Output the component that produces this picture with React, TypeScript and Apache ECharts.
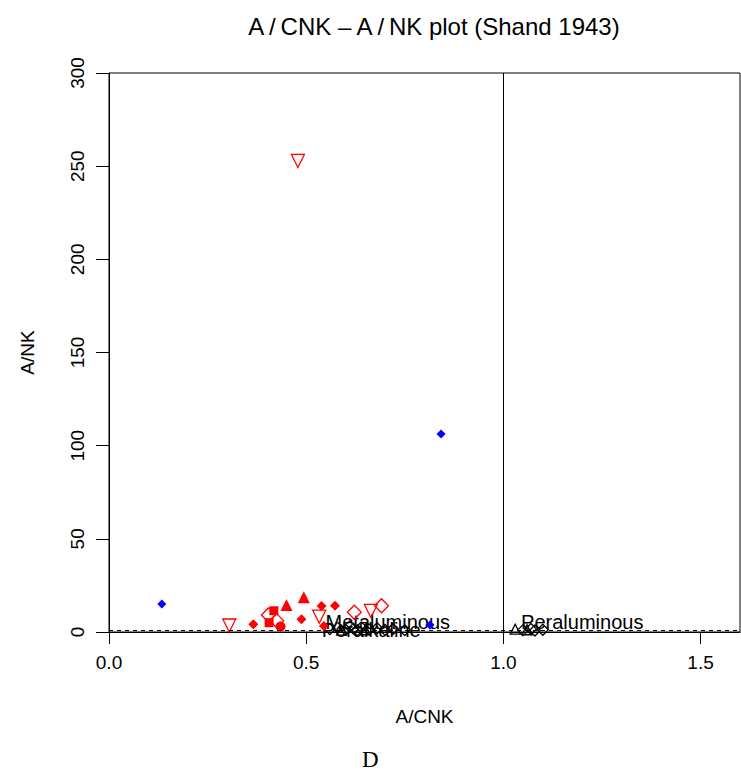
import React, { useEffect, useRef } from "react";
import * as echarts from "echarts";

const xTickValues = [0, 0.5, 1.0, 1.5];
const yTickValues = [0, 50, 100, 150, 200, 250, 300];

const blueDiamonds = [[0.134, 15.0], [0.842, 106.3], [0.814, 3.8]];
const redOpenDownTriangles = [[0.479, 252.8], [0.305, 3.5], [0.533, 8.2], [0.664, 11.3]];
const redFilledDiamonds = [[0.366, 4.1], [0.488, 6.8], [0.539, 14.0], [0.573, 14.1], [0.545, 3.2]];
const redFilledSquares = [[0.418, 11.4], [0.406, 5.0]];
const redOpenDiamonds = [[0.404, 9.1], [0.425, 6.1], [0.622, 10.6], [0.691, 14.1]];
const redFilledCircles = [[0.435, 2.9]];
const redFilledTriangles = [[0.45, 14.5], [0.494, 18.6]];
const blackOpenDiamonds = [
  [0.56, 1.5], [0.58, 2.2], [0.6, 1.2], [0.61, 3.0], [0.62, 1.8], [0.63, 0.9],
  [0.64, 2.5], [0.66, 1.4], [0.68, 2.0], [0.7, 1.1], [0.72, 1.6], [0.75, 1.0],
  [1.05, 1.0], [1.07, 1.6], [1.08, 0.8], [1.1, 1.2],
];
const blackOpenTriangles = [[0.59, 1.0], [0.65, 1.2], [1.03, 1.5], [1.06, 1.2]];

const fieldLabels = [
  { name: "Metaluminous", value: [0.707, 5.6] },
  { name: "Peraluminous", value: [1.2, 5.6] },
  { name: "Peralkaline", value: [0.665, 0.9] },
];

const RED = "#ff0000";
const BLUE = "#0000ff";

export default function App() {
  const ref = useRef<HTMLDivElement>(null);
  useEffect(() => {
    if (!ref.current) return;
    const chart = echarts.init(ref.current, null, { renderer: "svg" });
    const font = "Liberation Sans";
    const openStyle = (c: string) => ({ color: "rgba(0,0,0,0)", borderColor: c, borderWidth: 1.3, opacity: 1 });
    const filled = (c: string) => ({ color: c, opacity: 1 });
    chart.setOption({
      animation: false,
      backgroundColor: "#ffffff",
      textStyle: { fontFamily: font },
      title: {
        text: "A\u2009/\u2009CNK – A\u2009/\u2009NK plot (Shand 1943)",
        left: 429,
        textAlign: "center",
        top: 9,
        textStyle: { fontFamily: font, fontSize: 24, fontWeight: "normal", color: "#000" },
      },
      grid: {
        left: 109,
        top: 73,
        width: 631,
        height: 559,
        show: true,
        borderColor: "#000",
        borderWidth: 1,
        backgroundColor: "transparent",
      },
      xAxis: {
        type: "value",
        min: 0,
        max: 1.6,
        interval: 0.5,
        splitLine: { show: false },
        axisLine: { show: true, onZero: false, lineStyle: { color: "#000" } },
        axisTick: { show: true, length: 12, lineStyle: { color: "#000" }, customValues: xTickValues },
        axisLabel: {
          customValues: xTickValues,
          formatter: (v: number) => v.toFixed(1),
          fontSize: 19,
          color: "#000",
          margin: 21,
          fontFamily: font,
        },
        name: "A/CNK",
        nameLocation: "middle",
        nameGap: 75,
        nameTextStyle: { fontSize: 19, color: "#000", fontFamily: font },
      },
      yAxis: {
        type: "value",
        min: 0,
        max: 300,
        interval: 50,
        splitLine: { show: false },
        axisLine: { show: true, onZero: false, lineStyle: { color: "#000" } },
        axisTick: { show: true, length: 13, lineStyle: { color: "#000" }, customValues: yTickValues },
        axisLabel: {
          customValues: yTickValues,
          rotate: 90,
          fontSize: 19,
          color: "#000",
          margin: 22,
          fontFamily: font,
        },
        name: "A/NK",
        nameLocation: "middle",
        nameGap: 72,
        nameRotate: 90,
        nameTextStyle: { fontSize: 19, color: "#000", fontFamily: font },
      },
      graphic: [
        {
          type: "text",
          left: 362,
          top: 748,
          style: { text: "D", fontFamily: "Liberation Serif", fontSize: 23, fill: "#000" },
        },
      ],
      series: [
        {
          type: "scatter",
          name: "black open triangles",
          data: blackOpenTriangles,
          symbol: "triangle",
          symbolSize: 10,
          itemStyle: openStyle("#000"),
          markLine: {
            silent: true,
            symbol: "none",
            label: { show: false },
            data: [
              { xAxis: 1, lineStyle: { color: "#000", width: 1, type: "solid", opacity: 1 } },
              { yAxis: 1, lineStyle: { color: "#000", width: 1, type: [4, 4], opacity: 1 } },
            ],
          },
        },
        {
          type: "scatter",
          name: "black open diamonds",
          data: blackOpenDiamonds,
          symbol: "diamond",
          symbolSize: 11,
          itemStyle: openStyle("#000"),
        },
        {
          type: "scatter",
          name: "labels",
          data: fieldLabels,
          symbolSize: 0,
          itemStyle: { opacity: 1, color: "#000" },
          label: {
            show: true,
            position: "inside",
            formatter: (p: any) => p.name,
            fontSize: 20,
            color: "#000",
            fontFamily: font,
          },
          z: 1,
        },
        {
          type: "scatter",
          name: "blue diamonds",
          data: blueDiamonds,
          symbol: "diamond",
          symbolSize: 9,
          itemStyle: filled(BLUE),
        },
        {
          type: "scatter",
          name: "red open down triangles",
          data: redOpenDownTriangles,
          symbol: "triangle",
          symbolRotate: 180,
          symbolSize: 13,
          itemStyle: openStyle(RED),
        },
        {
          type: "scatter",
          name: "red filled diamonds",
          data: redFilledDiamonds,
          symbol: "diamond",
          symbolSize: 10,
          itemStyle: filled(RED),
        },
        {
          type: "scatter",
          name: "red filled squares",
          data: redFilledSquares,
          symbol: "rect",
          symbolSize: 9,
          itemStyle: filled(RED),
        },
        {
          type: "scatter",
          name: "red open diamonds",
          data: redOpenDiamonds,
          symbol: "diamond",
          symbolSize: 14,
          itemStyle: openStyle(RED),
        },
        {
          type: "scatter",
          name: "red filled circles",
          data: redFilledCircles,
          symbol: "circle",
          symbolSize: 10,
          itemStyle: filled(RED),
        },
        {
          type: "scatter",
          name: "red filled triangles",
          data: redFilledTriangles,
          symbol: "triangle",
          symbolSize: 12,
          itemStyle: filled(RED),
        },
      ],
    });
    return () => chart.dispose();
  }, []);
  return (
    <div
      ref={ref}
      style={{ position: "fixed", left: 0, top: 0, width: 741, height: 773, background: "#fff" }}
    />
  );
}
